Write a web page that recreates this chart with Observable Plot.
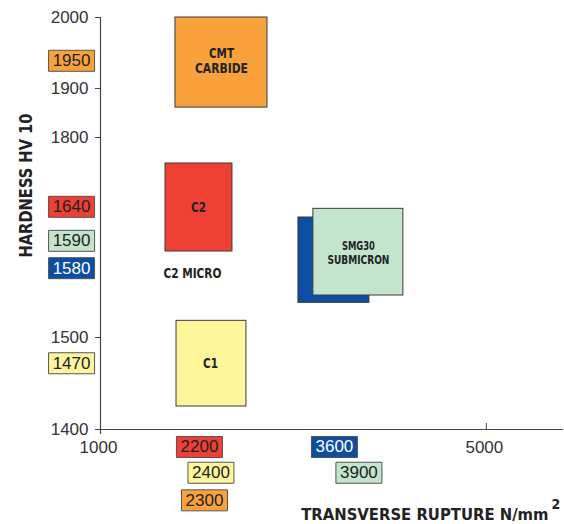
<!DOCTYPE html>
<html>
<head>
<meta charset="utf-8">
<script src="https://cdn.jsdelivr.net/npm/d3@7"></script>
<script src="https://cdn.jsdelivr.net/npm/@observablehq/plot@0.6"></script>
<style>
  html, body { margin: 0; padding: 0; background: #fff; }
  #chart { width: 564px; height: 524px; }
</style>
</head>
<body>
<div id="chart"></div>
<script>
// ---- data ----
const gradeNames = ["CMT CARBIDE", "C2", "C1", "SMG30 (back)", "SMG30 SUBMICRON"];
const ruptureLow  = [1777, 1674, 1788, 3052, 3207];
const ruptureHigh = [2731, 2368, 2513, 3788, 4140];
const hardnessLow  = [1861, 1629, 1425, 1552, 1563];
const hardnessHigh = [2000, 1761, 1525, 1680, 1693];
const gradeColors = ["#F9A13A", "#EE4035", "#FFF59B", "#0B4EA2", "#C3E5CC"];

// single-line labels
const labelTexts = ["C2", "C1", "C2 MICRO"];
const labelRupture = [2016, 2140, 1953];
const labelHardness = [1695, 1472, 1596];
// two-line labels
const label2Texts = ["CMT\nCARBIDE", "SMG30\nSUBMICRON"];
const label2Rupture = [2254, 3674];
const label2Hardness = [1939, 1627];

const hardValues = ["1950", "1640", "1590", "1580", "1470"];
const hardValueY = [1939, 1696, 1645, 1604, 1472];
const hardValueColors = ["#F9A13A", "#EE4035", "#C3E5CC", "#0B4EA2", "#FFF59B"];
const hardValueText = ["#222", "#222", "#222", "#fff", "#222"];

const ruptValues = ["2200", "2400", "2300", "3600", "3900"];
const ruptValueX = [2026, 2145, 2078, 3425, 3679];
const ruptValueY = [1381, 1353, 1323, 1381, 1353];
const ruptValueColors = ["#EE4035", "#FFF59B", "#F9A13A", "#0B4EA2", "#C3E5CC"];
const ruptValueText = ["#222", "#222", "#222", "#fff", "#222"];

const xTicks = [1000, 5000];
const yTicks = [1400, 1500, 1800, 1900, 2000];
const yBreaks = [1400, 1500, 1800, 1900, 2000];
const xTitle = "TRANSVERSE RUPTURE N/mm";
const yTitle = "HARDNESS HV 10";

// ---- tables ----
const grades = gradeNames.map((name, i) => ({
  name, x1: ruptureLow[i], x2: ruptureHigh[i], y1: hardnessLow[i], y2: hardnessHigh[i], color: gradeColors[i]
}));
const labels1 = labelTexts.map((t, i) => ({t, x: labelRupture[i], y: labelHardness[i]}));
const labels2 = label2Texts.map((t, i) => ({t, x: label2Rupture[i], y: label2Hardness[i]}));
const hardBoxes = hardValues.map((v, i) => ({v, x: 700, y: hardValueY[i], fill: hardValueColors[i], tc: hardValueText[i]}));
const ruptBoxes = ruptValues.map((v, i) => ({v, x: ruptValueX[i], y: ruptValueY[i], fill: ruptValueColors[i], tc: ruptValueText[i]}));
const valueBoxes = hardBoxes.concat(ruptBoxes);

const boxSymbol = { draw(ctx) { ctx.rect(-23, -10.5, 46, 21); } };
const narrow = "'DejaVu Sans Condensed', 'Liberation Sans Narrow', sans-serif";

const chart = Plot.plot({
  width: 564,
  height: 524,
  marginLeft: 100,
  marginRight: 1,
  marginTop: 17,
  marginBottom: 95,
  style: { fontFamily: "'Liberation Sans', Arial, sans-serif", fontSize: "17px", background: "#fff", color: "#333" },
  x: { domain: [1000, 5800], range: [100, 563] },
  y: { type: "linear", domain: yBreaks, range: [429, 337, 137, 88, 17] },
  marks: [
    Plot.rect(grades, { x1: "x1", x2: "x2", y1: "y1", y2: "y2", fill: "color", stroke: "#3a3a3a", strokeWidth: 1 }),
    Plot.text(labels1, { x: "x", y: "y", text: "t", fontSize: 14, fontWeight: "bold", fontFamily: narrow, fill: "#222" }),
    Plot.text(labels2.slice(0, 1), { x: "x", y: "y", text: "t", fontSize: 14, fontWeight: "bold", fontFamily: narrow, fill: "#222", lineHeight: 1.07 }),
    Plot.text(labels2.slice(1), { x: "x", y: "y", text: "t", fontSize: 12, fontWeight: "bold", fontFamily: narrow, fill: "#222", lineHeight: 1.17 }),
    Plot.ruleX([1000], { stroke: "#444", strokeWidth: 1.2, insetBottom: -5 }),
    Plot.ruleY([1400], { stroke: "#444", strokeWidth: 1.2 }),
    Plot.tickX([5000], { stroke: "#444", insetTop: 406 }),
    Plot.axisY({ ticks: yTicks, tickSize: 5, tickPadding: 7, tickFormat: d => String(d), label: null, fontSize: 17, stroke: "#444" }),
    Plot.axisX({ ticks: xTicks, tickSize: 0, tickPadding: 11, tickFormat: d => String(d), label: null, fontSize: 17, dx: -2 }),
    Plot.dot(valueBoxes, { x: "x", y: "y", symbol: boxSymbol, fill: "fill", stroke: "#555", strokeWidth: 1, r: 5 }),
    Plot.text(valueBoxes, { x: "x", y: "y", text: "v", fill: "tc", fontSize: 17 }),
    Plot.text([xTitle], { text: d => d, frameAnchor: "bottom-right", textAnchor: "end", lineAnchor: "bottom", dx: -15, dy: 90, fontSize: 16.5, fontWeight: "bold", fontFamily: narrow, fill: "#222" }),
    Plot.text(["2"], { text: d => d, frameAnchor: "bottom-right", textAnchor: "start", lineAnchor: "bottom", dx: -12, dy: 79, fontSize: 14, fontWeight: "bold", fontFamily: narrow, fill: "#222" }),
    Plot.text([yTitle], { text: d => d, frameAnchor: "left", textAnchor: "middle", rotate: -90, dx: -74.5, dy: -38, fontSize: 18, fontWeight: "bold", fontFamily: narrow, fill: "#222" })
  ]
});

// condense bold labels to the widths of the reference's narrow typeface
const textWidths = {
  "CMT": 25, "CARBIDE": 53, "C2": 15, "C1": 15, "C2 MICRO": 58,
  "SMG30": 33, "SUBMICRON": 62, "HARDNESS HV 10": 144
};
chart.querySelectorAll("text, tspan").forEach(el => {
  if (el.querySelector("tspan")) return;
  const w = textWidths[el.textContent];
  if (w && el.closest("[aria-label='text']")) {
    el.setAttribute("textLength", w);
    el.setAttribute("lengthAdjust", "spacingAndGlyphs");
  }
});
document.getElementById("chart").appendChild(chart);
</script>
</body>
</html>
